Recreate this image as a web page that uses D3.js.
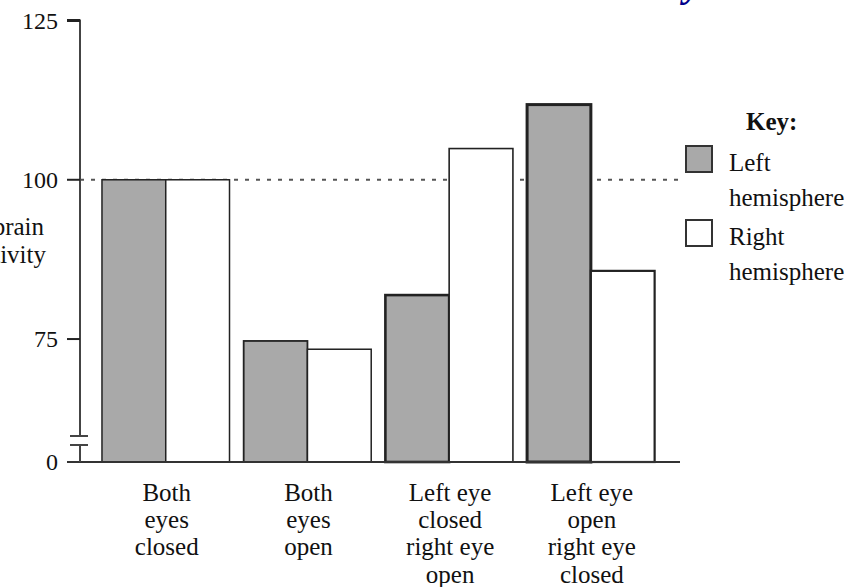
<!DOCTYPE html>
<html>
<head>
<meta charset="utf-8">
<script src="https://cdn.jsdelivr.net/npm/d3@7"></script>
<style>
  html, body { margin: 0; padding: 0; background: #fff; }
  svg { display: block; }
  text { font-family: "Liberation Serif", "DejaVu Serif", serif; fill: #111; }
</style>
</head>
<body>
<svg id="chart" width="864" height="587"></svg>
<script>
// ---- data ----
const categories = [
  ["Both", "eyes", "closed"],
  ["Both", "eyes", "open"],
  ["Left eye", "closed", "right eye", "open"],
  ["Left eye", "open", "right eye", "closed"]
];
const seriesNames = ["Left hemisphere", "Right hemisphere"];
const leftHemisphere = [100, 74.7, 81.9, 111.8];
const rightHemisphere = [100, 73.4, 104.9, 85.7];
const tickValues = [75, 100, 125];
const tickLabels = ["75", "100", "125"];
const baseLabel = "0";
const referenceLevel = 100;
const axisBreakBase = 55.7; // value drawn at the broken axis origin (labelled 0)

// ---- layout ----
const svg = d3.select("#chart");
const baseY = 462, topY = 20.5;
const y = d3.scaleLinear().domain([axisBreakBase, 125]).range([baseY, topY]);
const catIds = categories.map((c, i) => i);
const x = d3.scaleBand().domain(catIds).range([87.8, 668.8]).paddingInner(0.1).paddingOuter(0.1);
const xs = d3.scaleBand().domain([0, 1]).range([0, x.bandwidth()]);
const axisX = 80;
const fills = ["#a9a9a9", "#ffffff"];
const fs = 25;

// reference dotted line
svg.append("line")
  .attr("x1", axisX).attr("x2", 680)
  .attr("y1", y(referenceLevel)).attr("y2", y(referenceLevel))
  .attr("stroke", "#555").attr("stroke-width", 2)
  .attr("stroke-dasharray", "4,7");

// bars
const strokeW = [[1.5, 1.5], [1.8, 1.5], [2.6, 1.6], [3, 2.2]];
const rows = catIds.map(i => [leftHemisphere[i], rightHemisphere[i]]);
const g = svg.append("g");
rows.forEach((vals, i) => {
  vals.forEach((v, j) => {
    g.append("rect")
      .attr("x", x(i) + xs(j))
      .attr("y", y(v))
      .attr("width", xs.bandwidth())
      .attr("height", baseY - y(v))
      .attr("fill", fills[j])
      .attr("stroke", "#222")
      .attr("stroke-width", strokeW[i][j]);
  });
});

// x baseline
svg.append("line").attr("x1", 67).attr("x2", 680).attr("y1", baseY).attr("y2", baseY)
  .attr("stroke", "#333").attr("stroke-width", 2);

// y axis with break
const brkTop = 436, brkBot = 445;
svg.append("line").attr("x1", axisX).attr("x2", axisX).attr("y1", topY - 1).attr("y2", brkTop)
  .attr("stroke", "#444").attr("stroke-width", 2);
svg.append("line").attr("x1", axisX).attr("x2", axisX).attr("y1", brkBot).attr("y2", baseY)
  .attr("stroke", "#444").attr("stroke-width", 2);
[brkTop, brkBot].forEach(yy => {
  svg.append("line").attr("x1", 70).attr("x2", 88).attr("y1", yy).attr("y2", yy)
    .attr("stroke", "#444").attr("stroke-width", 2);
});

// ticks
tickValues.forEach((t, i) => {
  svg.append("line").attr("x1", 67).attr("x2", axisX)
    .attr("y1", y(t)).attr("y2", y(t))
    .attr("stroke", "#222").attr("stroke-width", t === 125 ? 3 : 2);
  svg.append("text").attr("x", 58).attr("y", y(t))
    .attr("text-anchor", "end").attr("dy", "0.34em")
    .attr("font-size", 24).text(tickLabels[i]);
});
svg.append("text").attr("x", 58).attr("y", baseY)
  .attr("text-anchor", "end").attr("dy", "0.34em")
  .attr("font-size", 24).text(baseLabel);

// y axis title (partly cut off at the left edge)
const yTitle = svg.append("text").attr("text-anchor", "end").attr("font-size", fs);
yTitle.append("tspan").attr("x", 44).attr("y", 235).text("brain");
yTitle.append("tspan").attr("x", 46).attr("y", 263).text("activity");

// category labels
categories.forEach((lines, i) => {
  const t = svg.append("text").attr("text-anchor", "middle").attr("font-size", fs);
  lines.forEach((ln, k) => {
    t.append("tspan").attr("x", x(i) + x.bandwidth() / 2 + 1).attr("y", 501 + k * 27.2).text(ln);
  });
});

// legend
svg.append("text").attr("x", 746).attr("y", 130).attr("font-size", fs)
  .attr("font-weight", "bold").text("Key:");
const legY = [146, 220];
const legLines = [["Left", "hemisphere"], ["Right", "hemisphere"]];
seriesNames.forEach((s, j) => {
  svg.append("rect").attr("x", 686).attr("y", legY[j]).attr("width", 26).attr("height", 26)
    .attr("fill", fills[j]).attr("stroke", "#333").attr("stroke-width", 2);
  const t = svg.append("text").attr("font-size", fs);
  legLines[j].forEach((ln, k) => {
    t.append("tspan").attr("x", 729).attr("y", legY[j] + 25 + k * 35).text(ln);
  });
});

// clipped heading fragment at top right
svg.append("text").attr("x", 684).attr("y", -4).attr("font-size", 40)
  .attr("font-weight", "bold").attr("font-style", "italic")
  .style("fill", "#00008b").text("y");
</script>
</body>
</html>
